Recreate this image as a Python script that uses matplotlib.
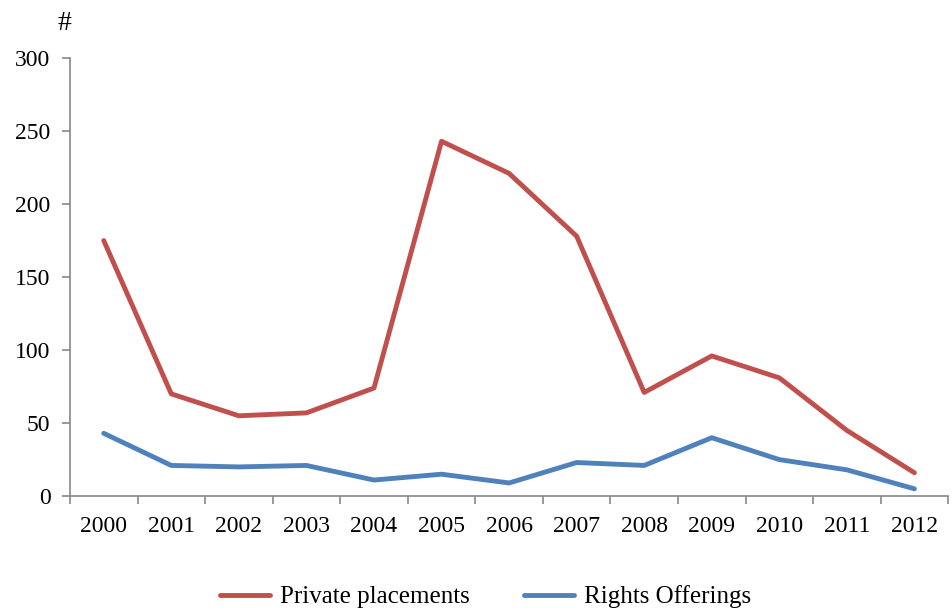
import numpy as np
import matplotlib.pyplot as plt

# deal counts per year
years = ['2000', '2001', '2002', '2003', '2004', '2005', '2006',
         '2007', '2008', '2009', '2010', '2011', '2012']
private = [175, 70, 55, 57, 74, 243, 221, 178, 71, 96, 81, 45, 16]
rights = [43, 21, 20, 21, 11, 15, 9, 23, 21, 40, 25, 18, 5]

plt.rcParams['font.family'] = ['Liberation Serif', 'DejaVu Serif']

fig = plt.figure(figsize=(9.52, 6.14), dpi=100)
ax = fig.add_axes([0.0735, 0.192, 0.9225, 0.7135])

x = np.arange(len(years))
ax.plot(x, private, color='#C0504D', lw=3.5, label='Private placements',
        solid_capstyle='round', solid_joinstyle='round')
ax.plot(x, rights, color='#4F81BD', lw=3.5, label='Rights Offerings',
        solid_capstyle='round', solid_joinstyle='round')

ax.set_xlim(-0.5, len(years) - 0.5)
ax.set_ylim(0, 300)
ax.set_yticks(range(0, 301, 50))

# year labels centred, tick marks between categories
ax.set_xticks(x)
ax.set_xticklabels(years)
ax.set_xticks(np.arange(-0.5, len(years), 1), minor=True)
ax.tick_params(axis='x', which='major', length=0, pad=14, labelsize=17)
ax.tick_params(axis='x', which='minor', length=6, color='#888888', width=1.2)
ax.tick_params(axis='y', length=6, color='#888888', width=1.2, labelsize=17, pad=8)

for s in ['top', 'right']:
    ax.spines[s].set_visible(False)
for s in ['left', 'bottom']:
    ax.spines[s].set_color('#888888')
    ax.spines[s].set_linewidth(1.2)

fig.text(0.068, 0.962, '#', fontsize=20, ha='center', va='center')

fig.legend(loc='center', bbox_to_anchor=(0.51, 0.028), ncol=2, frameon=False,
           fontsize=18, handlelength=2.0, columnspacing=2.2, handletextpad=0.4)

fig.savefig('out.png', dpi=100)
